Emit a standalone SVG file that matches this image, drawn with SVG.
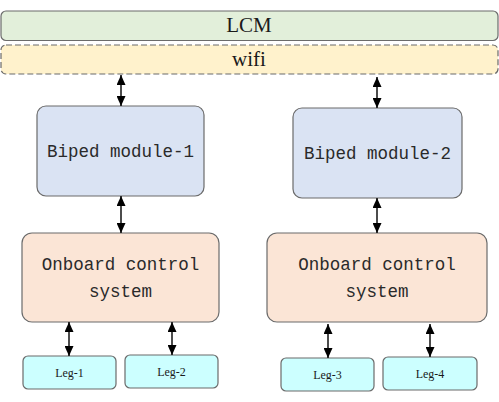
<svg xmlns="http://www.w3.org/2000/svg" width="499" height="402" viewBox="0 0 499 402">
<style>
.box{stroke:#6b6b6b;stroke-width:1.2}
.lcm{fill:#e2efda}
.wifi{fill:#fff2cc;stroke-dasharray:6 3}
.bip{fill:#dae3f3}
.obc{fill:#fbe5d6}
.leg{fill:#ccffff}
.serif{font-family:"Liberation Serif","Times New Roman",serif;fill:#1a1a1a;text-anchor:middle}
.mono{font-family:"Liberation Mono","DejaVu Sans Mono",monospace;font-size:17.5px;fill:#2a2a2a;text-anchor:middle}
.conn{stroke:#111;stroke-width:1.5;fill:none;marker-start:url(#ah);marker-end:url(#ah)}
</style>
<defs>
<marker id="ah" viewBox="0 0 10 10" refX="10" refY="5" markerWidth="10" markerHeight="9" markerUnits="userSpaceOnUse" orient="auto-start-reverse" preserveAspectRatio="none">
<path d="M0,0 L10,5 L0,10 z" fill="#000"/>
</marker>
</defs>
<g id="lcm"><rect class="box lcm" x="1" y="11" width="497" height="29.5" rx="5"/><text class="serif" x="249" y="32" font-size="21">LCM</text></g>
<g id="wifi"><rect class="box wifi" x="1" y="45" width="497" height="29" rx="5"/><text class="serif" x="249" y="66" font-size="21">wifi</text></g>
<g id="biped1"><rect class="box bip" x="37" y="106" width="167" height="90" rx="9"/><text class="mono" x="120.5" y="157">Biped module-1</text></g>
<g id="biped2"><rect class="box bip" x="293" y="108" width="169" height="90" rx="9"/><text class="mono" x="377.5" y="159">Biped module-2</text></g>
<g id="obc1"><rect class="box obc" x="22" y="233" width="197" height="89" rx="10"/><text class="mono" x="120.5" y="270">Onboard control</text><text class="mono" x="120.5" y="297">system</text></g>
<g id="obc2"><rect class="box obc" x="267" y="233" width="220" height="89" rx="10"/><text class="mono" x="377" y="270">Onboard control</text><text class="mono" x="377" y="297">system</text></g>
<g id="leg1"><rect class="box leg" x="23" y="356" width="93" height="33" rx="5"/><text class="serif" x="69.5" y="377" font-size="12">Leg-1</text></g>
<g id="leg2"><rect class="box leg" x="125" y="355" width="93" height="33" rx="5"/><text class="serif" x="171.5" y="376" font-size="12">Leg-2</text></g>
<g id="leg3"><rect class="box leg" x="281" y="358" width="93" height="33" rx="5"/><text class="serif" x="327.5" y="379" font-size="12">Leg-3</text></g>
<g id="leg4"><rect class="box leg" x="383" y="357" width="94" height="33" rx="5"/><text class="serif" x="430" y="378" font-size="12">Leg-4</text></g>
<g id="connectors">
<line class="conn" x1="121" y1="75" x2="121" y2="106"/>
<line class="conn" x1="377" y1="77" x2="377" y2="108"/>
<line class="conn" x1="121" y1="196" x2="121" y2="233"/>
<line class="conn" x1="377" y1="198" x2="377" y2="233"/>
<line class="conn" x1="69" y1="322" x2="69" y2="356"/>
<line class="conn" x1="172" y1="322" x2="172" y2="355"/>
<line class="conn" x1="328" y1="324" x2="328" y2="358"/>
<line class="conn" x1="430" y1="324" x2="430" y2="357"/>
</g>
</svg>
